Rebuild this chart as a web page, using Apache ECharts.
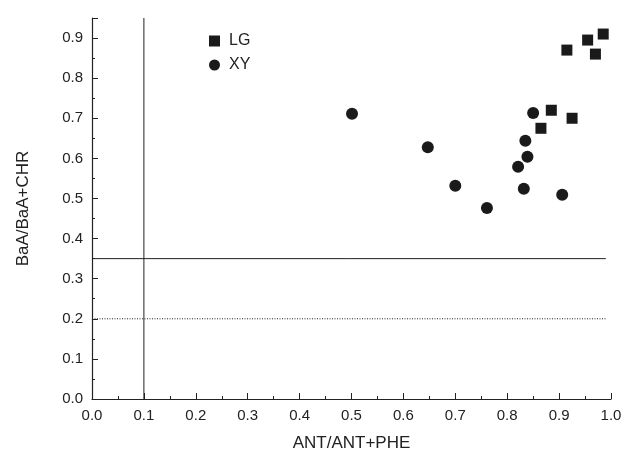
<!DOCTYPE html>
<html><head><meta charset="utf-8">
<script src="https://cdn.jsdelivr.net/npm/echarts@6/dist/echarts.min.js"></script>
<style>html,body{margin:0;padding:0;background:#fff}#c{width:625px;height:453px}</style>
</head><body><div id="c"></div>
<script>
const lgX = [0.985, 0.955, 0.915, 0.970, 0.885, 0.925, 0.865];
const lgY = [0.910, 0.895, 0.870, 0.860, 0.720, 0.700, 0.675];
const xyX = [0.501, 0.647, 0.700, 0.761, 0.821, 0.832, 0.835, 0.839, 0.850, 0.906];
const xyY = [0.711, 0.628, 0.532, 0.476, 0.579, 0.524, 0.644, 0.604, 0.713, 0.509];
const vLineX = 0.1;
const solidLineY = 0.35;
const dottedLineY = 0.2;

const lgData = lgX.map((x, i) => [x, lgY[i]]);
const xyData = xyX.map((x, i) => [x, xyY[i]]);
const font = 'Liberation Sans, Arial, sans-serif';
const chart = echarts.init(document.getElementById('c'));
const axisCommon = {
  axisLine: {show: true, lineStyle: {color: '#222', width: 1.2}},
  axisTick: {inside: true, length: 6, lineStyle: {color: '#222'}},
  minorTick: {show: true, splitNumber: 2, length: 3, lineStyle: {color: '#222'}},
  splitLine: {show: false},
  axisLabel: {color: '#222', fontSize: 15, fontFamily: font, formatter: v => (Math.abs(v - 0.95) < 1e-6 ? '' : v.toFixed(1))},
  nameTextStyle: {color: '#222', fontSize: 17, fontFamily: font}
};
chart.setOption({
  animation: false,
  grid: {left: 92, right: 14, top: 18, bottom: 54, containLabel: false, outerBoundsMode: 'none'},
  legend: {
    left: 204, top: 28, orient: 'vertical', itemGap: 8, itemWidth: 11, itemHeight: 11,
    textStyle: {color: '#222', fontSize: 16, fontFamily: font, padding: [0, 0, 0, 4]},
    data: [{name: 'LG', icon: 'rect'}, {name: 'XY', icon: 'circle'}]
  },
  xAxis: Object.assign({}, axisCommon, {
    type: 'value', min: 0, max: 1, interval: 0.1,
    name: 'ANT/ANT+PHE', nameLocation: 'middle', nameGap: 36,
    axisLabel: Object.assign({}, axisCommon.axisLabel, {margin: 9})
  }),
  yAxis: Object.assign({}, axisCommon, {
    type: 'value', min: 0, max: 0.95, interval: 0.1,
    name: 'BaA/BaA+CHR', nameLocation: 'middle', nameGap: 60,
    axisLabel: Object.assign({}, axisCommon.axisLabel, {margin: 9})
  }),
  series: [
    {name: 'LG', type: 'scatter', symbol: 'rect', symbolSize: 11, itemStyle: {color: '#1a1a1a', opacity: 1}, data: lgData, z: 5},
    {name: 'XY', type: 'scatter', symbol: 'circle', symbolSize: 12, itemStyle: {color: '#1a1a1a', opacity: 1}, data: xyData, z: 5},
    {name: 'v', type: 'line', symbol: 'none', silent: true, lineStyle: {color: '#222', width: 1},
      data: [[vLineX, 0], [vLineX, 0.95]]},
    {name: 'h1', type: 'line', symbol: 'none', silent: true, lineStyle: {color: '#222', width: 1},
      data: [[0, solidLineY], [0.99, solidLineY]]},
    {name: 'h2', type: 'line', symbol: 'none', silent: true, lineStyle: {color: '#222', width: 1, type: [1, 1.5]},
      data: [[0, dottedLineY], [0.99, dottedLineY]]}
  ]
});
</script></body></html>
